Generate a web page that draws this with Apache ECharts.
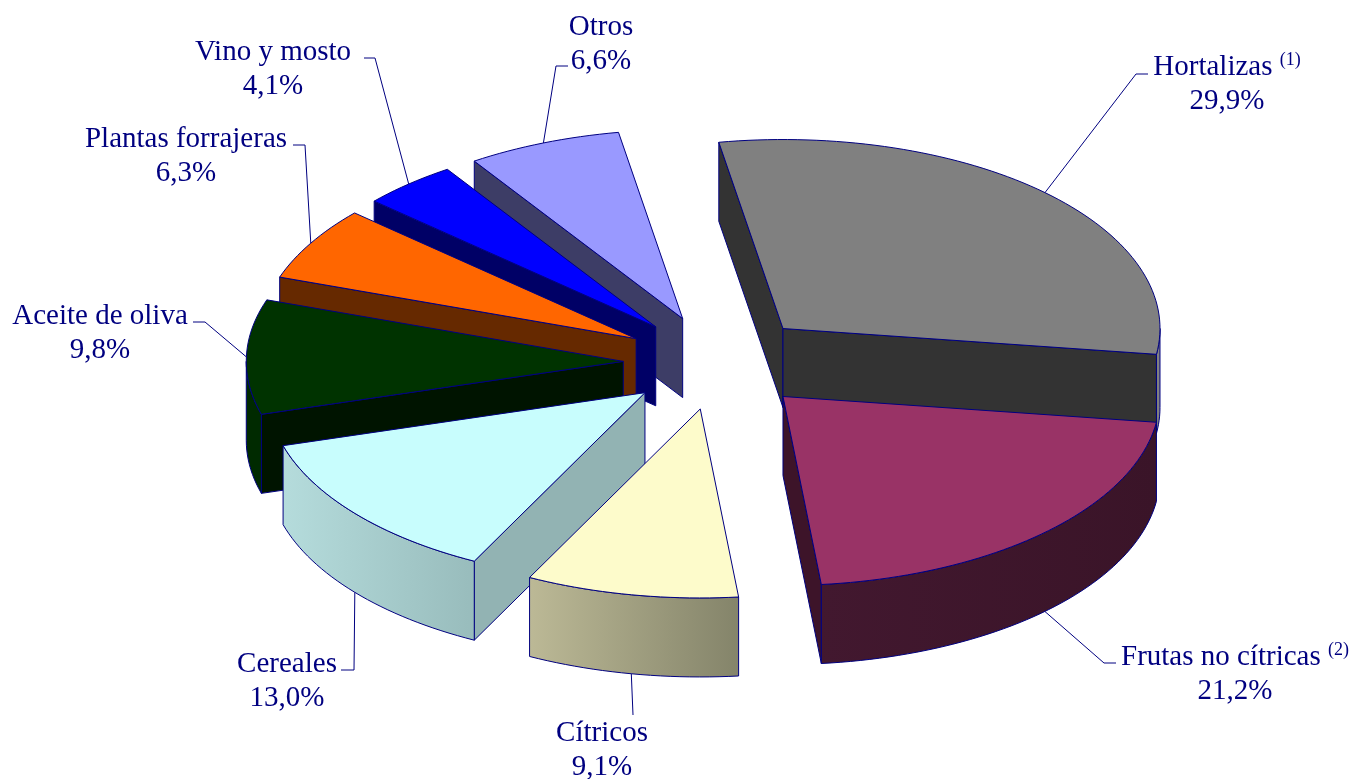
<!DOCTYPE html>
<html>
<head>
<meta charset="utf-8">
<style>html,body{margin:0;padding:0;background:#fff}#c{width:1357px;height:779px}</style>
<script src="https://cdn.jsdelivr.net/npm/echarts@6/dist/echarts.min.js"></script>
</head>
<body>
<div id="c"></div>
<script>
// ---- data, clockwise from the top of the pie ----
const categories = ['Hortalizas','Frutas no cítricas','Cítricos','Cereales','Aceite de oliva','Plantas forrajeras','Vino y mosto','Otros'];
const values = [29.9, 21.2, 9.1, 13.0, 9.8, 6.3, 4.1, 6.6];
const notes = ['(1)','(2)','','','','','',''];

// ---- styles ----
const topColors  = ['#808080','#993366','#FDFBCB','#C8FDFD','#003300','#FF6600','#0000FF','#9999FF'];
const cutColors  = ['#333333','#3D1429','#84846A','#92B3B3','#001400','#662900','#000066','#3D3D66'];
const wallLeft   = ['#808080','#42182F','#BCB996','#B5DCDC','#002A00','#803300','#000080','#4D4D80'];
const wallRight  = ['#808080','#3A1428','#84846A','#98BCBC','#002A00','#803300','#000080','#4D4D80'];
const INK = '#000080';

// ---- layout: pie projection and label placement ----
const CX = 717.5, CY = 362.5, RX = 377, RY = 189, DEPTH = 79, EXPLODE = 0.25, START_DEG = -9.8;
const FONT = '"Liberation Serif","Times New Roman",serif';
const labelCenter = [[1227,65],[1235,655],[602,731],[287,662],[100,314],[186,137],[273,50],[601,25]];
const leaderElbow = [[[1136,74],[1148,74]],[[1104,663],[1116,663]],[[633,715]],[[354,670],[341,670]],
                     [[205,322],[193,322]],[[305,145],[293,145]],[[375,58],[364,58]],[[556,66],[568,66]]];
// painter's order: far slices first
const paintOrder = [7,6,5,4,0,1,3,2];

const total = values.reduce((a,b)=>a+b,0);
const spans = [];
values.reduce((acc,v)=>{ const end = acc + v/total*360; spans.push([acc,end]); return end; }, START_DEG);
const rad = d => d*Math.PI/180;

function makeSlice(i, value) {
  const [a0,a1] = spans[i];
  const mid = (a0+a1)/2;
  const ax = CX + EXPLODE*RX*Math.sin(rad(mid));
  const ay = CY - EXPLODE*RY*Math.cos(rad(mid));
  const rim = d => [ax + RX*Math.sin(rad(d)), ay - RY*Math.cos(rad(d))];
  const down = p => [p[0], p[1]+DEPTH];
  const arc = (f,t) => { const n = Math.max(2,Math.ceil((t-f)/1.5)), r=[]; for(let k=0;k<=n;k++) r.push(rim(f+(t-f)*k/n)); return r; };
  const edge = {stroke:INK, lineWidth:1, lineJoin:'round'};
  const kids = [];
  const quad = d => {
    const p = rim(d);
    kids.push({type:'polygon', shape:{points:[[ax,ay],p,down(p),[ax,ay+DEPTH]]}, style:Object.assign({fill:cutColors[i]},edge)});
  };
  // a cut face shows only when it turns toward the viewer
  if (-Math.cos(rad(a0-90)) > 0) quad(a0);
  if (-Math.cos(rad(a1+90)) > 0) quad(a1);
  // outer wall: only the front half of the rim
  const f = Math.max(a0,90), t = Math.min(a1,270);
  if (t > f) {
    const upper = arc(f,t);
    kids.push({type:'polygon', shape:{points:upper.concat(upper.map(down).reverse())},
      style:Object.assign({fill:new echarts.graphic.LinearGradient(0,0,1,0,[{offset:0,color:wallLeft[i]},{offset:1,color:wallRight[i]}])},edge)});
  }
  kids.push({type:'polygon', shape:{points:[[ax,ay]].concat(arc(a0,a1))}, style:Object.assign({fill:topColors[i]},edge)});
  // leader line, from the rim at the slice's mid angle
  const mp = rim(mid);
  const front = mid > 90 && mid < 270;
  kids.push({type:'polyline', shape:{points:[front?down(mp):mp].concat(leaderElbow[i])}, style:{stroke:INK,lineWidth:1,fill:null}});
  // label
  const [lx,ly] = labelCenter[i];
  const pct = value.toFixed(1).replace('.',',') + '%';
  const head = notes[i] ? '{n|'+categories[i]+' }{s|'+notes[i]+'}' : '{n|'+categories[i]+'}';
  kids.push({type:'text', style:{
    x:lx, y:ly-17, align:'center', verticalAlign:'top',
    text: head+'\n{n|'+pct+'}',
    fill:INK,
    rich:{ n:{font:'29px '+FONT, fill:INK, lineHeight:34, verticalAlign:'bottom'},
           s:{font:'18px '+FONT, fill:INK, lineHeight:34, verticalAlign:'top', padding:[3,0,7,0]} }
  }});
  return {type:'group', children:kids};
}

const chart = echarts.init(document.getElementById('c'), null, {width:1357,height:779});
chart.setOption({
  animation:false,
  backgroundColor:'#ffffff',
  series:[{
    type:'custom',
    coordinateSystem:'none',
    silent:true,
    data: paintOrder.map(i => ({name:categories[i], value:[values[i], i]})),
    renderItem:(params,api)=> makeSlice(api.value(1), api.value(0))
  }]
});
</script>
</body>
</html>
